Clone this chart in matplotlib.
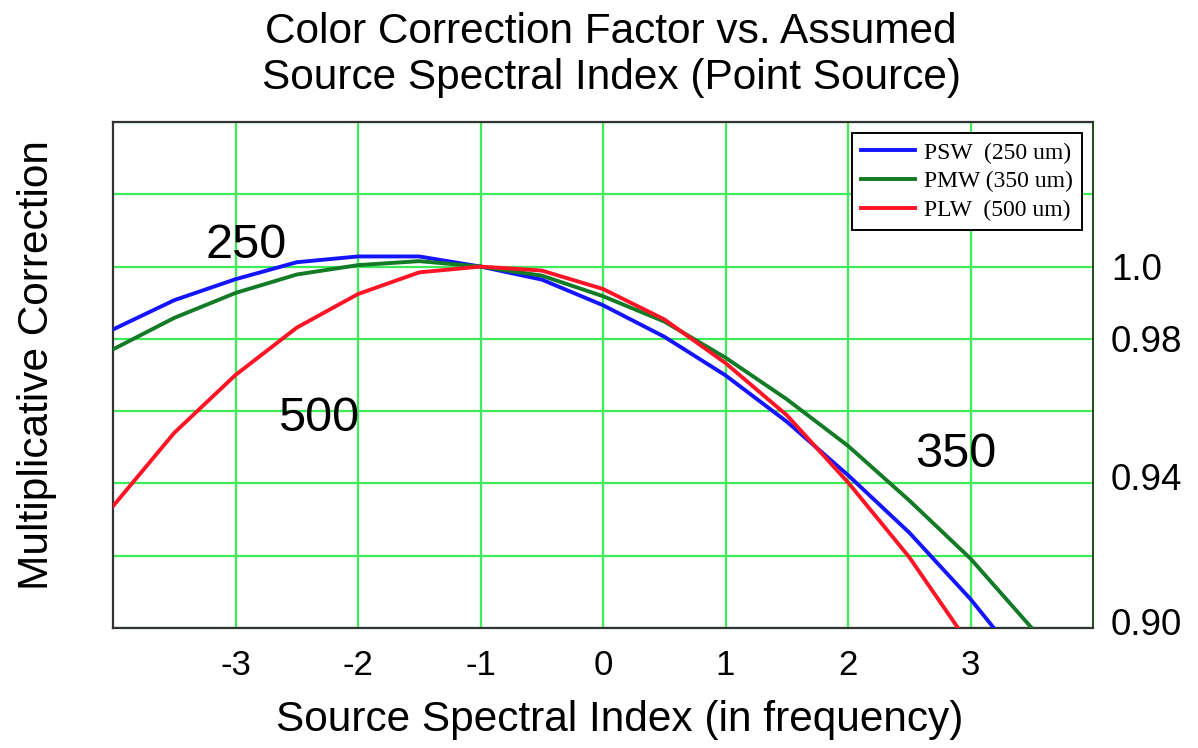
import numpy as np
import matplotlib
matplotlib.use("Agg")
import matplotlib.pyplot as plt
from matplotlib.transforms import ScaledTranslation

plt.rcParams["font.family"] = ["Liberation Sans", "DejaVu Sans"]

# spectral index values
indice = [-4.0, -3.5, -3.0, -2.5, -2.0, -1.5, -1.0, -0.5, 0.0, 0.5, 1.0, 1.5, 2.0, 2.5, 3.0, 3.5]

psw = [0.9826, 0.9907, 0.9965, 1.0012, 1.0028, 1.0028, 1.0, 0.9964, 0.9893, 0.9806,
       0.9699, 0.9571, 0.9423, 0.9264, 0.9080, 0.8870]
pmw = [0.9771, 0.9858, 0.9927, 0.9978, 1.0004, 1.0015, 1.0, 0.9975, 0.9918, 0.9848,
       0.9748, 0.9633, 0.9504, 0.9353, 0.9192, 0.9000]
plw = [0.9337, 0.9540, 0.9700, 0.9831, 0.9924, 0.9984, 1.0, 0.9989, 0.9938, 0.9854,
       0.9733, 0.9589, 0.9403, 0.9196, 0.8950, 0.8700]

legendas = ["PSW  (250 um)", "PMW (350 um)", "PLW  (500 um)"]
cores = ["#1414ff", "#137a25", "#ff1426"]

xticks = [-3, -2, -1, 0, 1, 2, 3]
xtick_labels = ["-3", "-2", "-1", "0", "1", "2", "3"]
yticks = [0.90, 0.92, 0.94, 0.96, 0.98, 1.00, 1.02, 1.04]
ytick_labels = ["0.90", "", "0.94", "", "0.98", "1.0", "", ""]

fig = plt.figure(figsize=(11.98, 7.48), dpi=100)
ax = fig.add_axes([113 / 1198, 1 - 628 / 748, (1093 - 113) / 1198, (628 - 122) / 748])

for serie, cor, nome in zip([psw, pmw, plw], cores, legendas):
    ax.plot(indice, serie, color=cor, lw=2.8, label=nome, zorder=3)

ax.set_xlim(-4, 4)
ax.set_ylim(0.90, 1.04)
ax.set_xticks(xticks)
ax.set_xticklabels(xtick_labels, fontsize=25)
ax.set_yticks(yticks)
ax.set_yticklabels(ytick_labels, fontsize=26.5)
ax.yaxis.tick_right()
ax.tick_params(axis="x", length=0, pad=15)
ax.tick_params(axis="y", length=0, pad=13)
ax.grid(True, color="#3cec5a", lw=1.6, zorder=1)

# the lower labels sit a bit above their grid lines in the original
for rotulo in ax.get_yticklabels():
    if rotulo.get_text() in ("0.94", "0.90"):
        rotulo.set_transform(rotulo.get_transform() + ScaledTranslation(0, 5 / 72, fig.dpi_scale_trans))

for lado in ["left", "bottom", "top"]:
    ax.spines[lado].set_color("#333333")
    ax.spines[lado].set_linewidth(1.6)
ax.spines["right"].set_color("#1c4a1c")
ax.spines["right"].set_linewidth(1.4)

ax.text(-2.91, 1.0058, "250", fontsize=35, ha="center", va="center")
ax.text(-2.32, 0.9581, "500", fontsize=35, ha="center", va="center")
ax.text(2.88, 0.9481, "350", fontsize=35, ha="center", va="center")

leg = ax.legend(loc="upper right", bbox_to_anchor=(1.0, 1.0), borderaxespad=0.45,
                prop={"family": "Liberation Serif", "size": 17},
                handlelength=2.25, handletextpad=0.4, labelspacing=0.3,
                borderpad=0.4, fancybox=False, framealpha=1)
leg.get_frame().set_edgecolor("black")
leg.get_frame().set_linewidth(1.4)

fig.text(611 / 1198, 1 - 55 / 748,
         "Color Correction Factor vs. Assumed\nSource Spectral Index (Point Source)",
         fontsize=30.5, ha="center", va="center", linespacing=1.18)
fig.text(620 / 1198, 1 - 720 / 748, "Source Spectral Index (in frequency)",
         fontsize=30.5, ha="center", va="center")
fig.text(37 / 1198, 1 - 365 / 748, "Multiplicative Correction",
         fontsize=30.5, ha="center", va="center", rotation=90)

fig.savefig("out.png", dpi=100)
